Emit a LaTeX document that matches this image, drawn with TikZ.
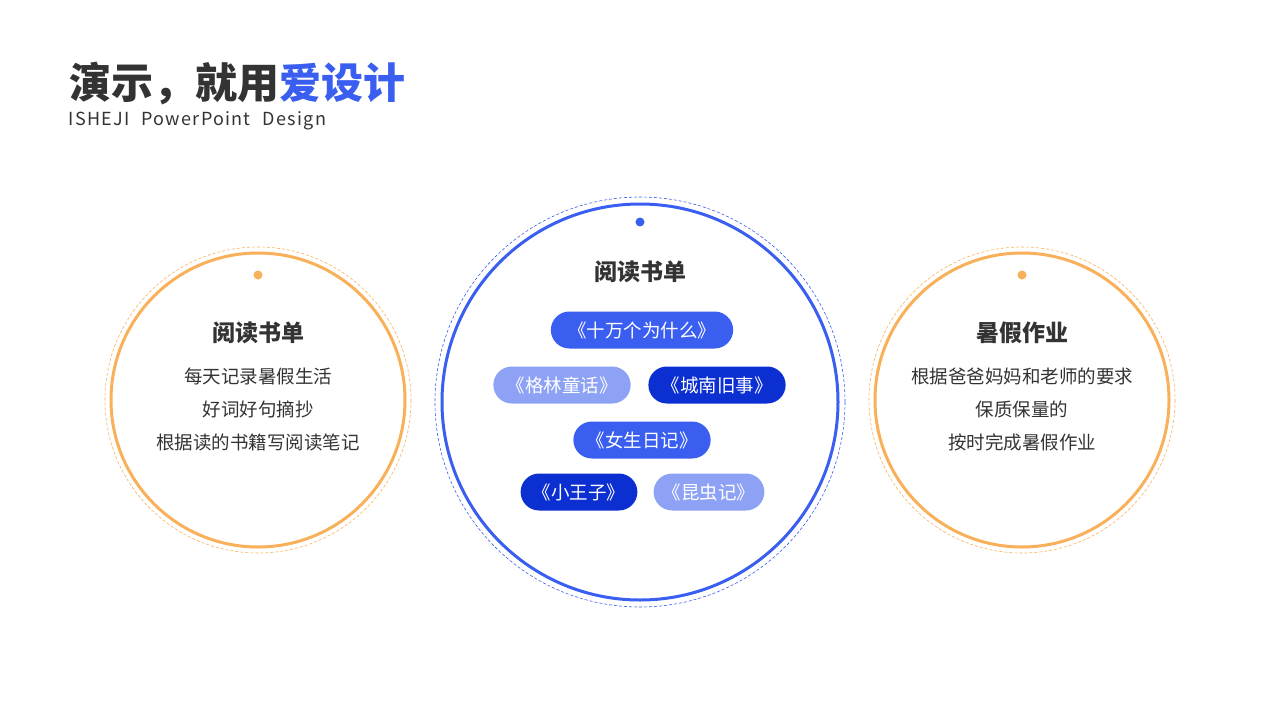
\documentclass[tikz,border=0pt]{standalone}
\usepackage{fontspec}
\setmainfont{Noto Sans CJK SC}
\usetikzlibrary{shapes.misc}
\definecolor{org}{HTML}{F8B15A}
\definecolor{blu}{HTML}{3A5EF0}
\definecolor{lblu}{HTML}{8DA2F5}
\definecolor{dblu}{HTML}{0B2FD0}
\definecolor{txt}{HTML}{333333}
\tikzset{
 pill/.style={rounded rectangle, minimum height=37pt, text=white, font=\fontsize{18.5}{18.5}\selectfont, inner xsep=10pt},
 head/.style={font=\fontsize{23}{23}\selectfont\bfseries, text=txt},
 body/.style={font=\fontsize{18.5}{33}\selectfont, text=txt, align=center}
}
\begin{document}
\begin{tikzpicture}[x=1pt,y=-1pt]
\useasboundingbox (0,0) rectangle (1280,720);
\node[anchor=west,font=\fontsize{42}{42}\selectfont\bfseries,text=txt] (t) at (66,84) {演示，就用\textcolor{blu}{爱设计}};
\node[anchor=west,font=\fontsize{18}{18}\selectfont,text=txt] (s) at (65,121) {\addfontfeature{LetterSpace=7}ISHEJI\hspace{7pt} PowerPoint\hspace{7pt} Design};
% left
\draw[org,line width=3pt] (258,400) circle (147);
\draw[org,densely dashed,line width=0.6pt] (258,400) circle (153);
\fill[org] (258,275) circle (4.5);
\node[head] (lh) at (258,333) {阅读书单};
\node[body] (lb) at (258,409) {每天记录暑假生活\\好词好句摘抄\\根据读的书籍写阅读笔记};
% right
\draw[org,line width=3pt] (1022,400) circle (147);
\draw[org,densely dashed,line width=0.6pt] (1022,400) circle (153);
\fill[org] (1022,275) circle (4.5);
\node[head] (rh) at (1022,333) {暑假作业};
\node[body] (rb) at (1022,409) {根据爸爸妈妈和老师的要求\\保质保量的\\按时完成暑假作业};
% center
\draw[blu,line width=3pt] (640,402) circle (198);
\draw[blu,densely dashed,line width=0.6pt] (640,402) circle (205);
\fill[blu] (640,222) circle (4.5);
\node[head] (ch) at (640,272) {阅读书单};
\node[pill,fill=blu,inner xsep=15pt] (p1) at (642,330) {《十万个为什么》};
\node[pill,fill=lblu,inner xsep=11pt] (p2) at (562,385) {《格林童话》};
\node[pill,fill=dblu,inner xsep=11pt] (p3) at (717,385) {《城南旧事》};
\node[pill,fill=blu,inner xsep=11pt] (p4) at (642,440) {《女生日记》};
\node[pill,fill=dblu,inner xsep=10pt] (p5) at (579,492) {《小王子》};
\node[pill,fill=lblu,inner xsep=7pt] (p6) at (709,492) {《昆虫记》};
\end{tikzpicture}
\end{document}
